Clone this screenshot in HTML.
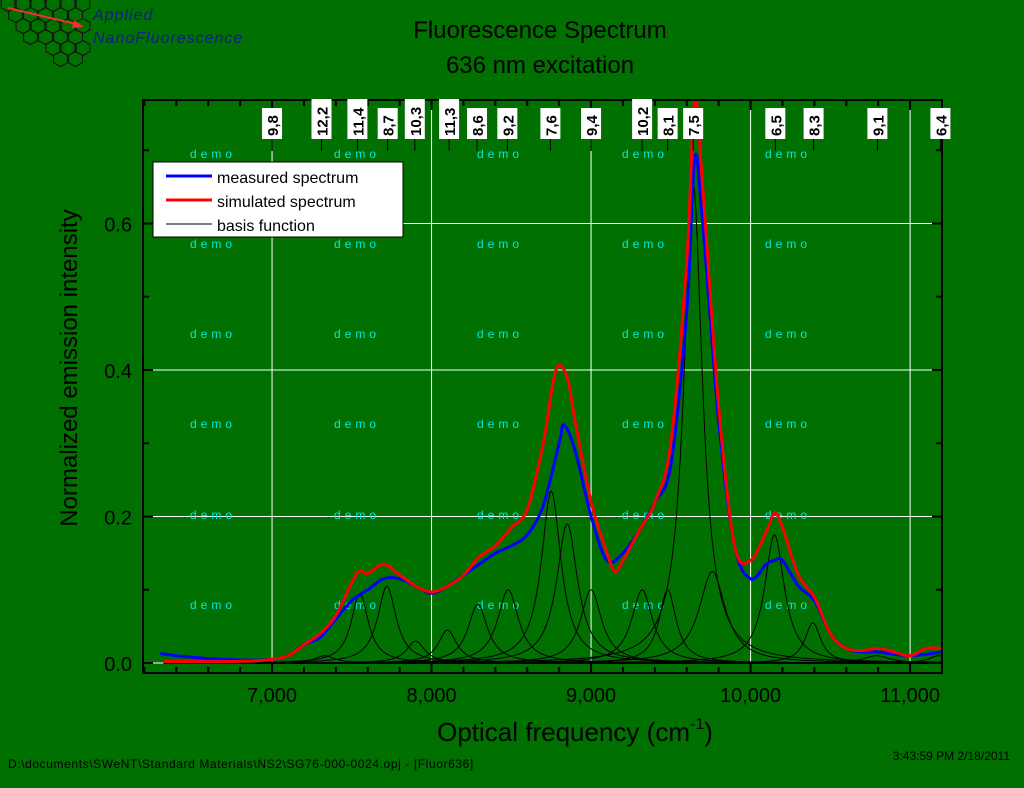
<!DOCTYPE html>
<html><head><meta charset="utf-8"><style>
html,body{margin:0;padding:0;background:#007000;}
body{width:1024px;height:783px;overflow:hidden;font-family:"Liberation Sans",sans-serif;}
</style></head><body>
<svg id="svg" width="1024" height="783" xmlns="http://www.w3.org/2000/svg" font-family="Liberation Sans, sans-serif">
<defs><clipPath id="plotclip"><rect x="143" y="100" width="799" height="573"/></clipPath></defs>
<rect width="1024" height="783" fill="#007000"/>
<g>
<g id="hex" stroke="#111" fill="none" stroke-width="1"></g>
<line x1="8" y1="8" x2="80" y2="25" stroke="#f03030" stroke-width="2"/>
<polygon points="84,27 74,20 72,28" fill="#f03030"/>
<text x="93" y="20" font-size="16" font-style="italic" fill="#102080" letter-spacing="1">Applied</text>
<text x="93" y="43" font-size="16" font-style="italic" fill="#102080" letter-spacing="1">NanoFluorescence</text>
</g>
<text x="540" y="38" font-size="24" text-anchor="middle" fill="#000">Fluorescence Spectrum</text>
<text x="540" y="73" font-size="24" text-anchor="middle" fill="#000">636 nm excitation</text>
<g id="grid"></g>
<g id="demo"></g>
<g id="basis" clip-path="url(#plotclip)"></g>
<g id="series" clip-path="url(#plotclip)"></g>
<g id="axes"></g>
<g id="labels"></g>
<g>
<rect x="153" y="162" width="250" height="75" fill="#fff" stroke="#000"/>
<line x1="166" y1="176" x2="212" y2="176" stroke="#0000ff" stroke-width="3"/>
<text x="217" y="183" font-size="16" fill="#000">measured spectrum</text>
<line x1="166" y1="200" x2="212" y2="200" stroke="#ff0000" stroke-width="3"/>
<text x="217" y="207" font-size="16" fill="#000">simulated spectrum</text>
<line x1="166" y1="224" x2="212" y2="224" stroke="#000" stroke-width="1"/>
<text x="217" y="231" font-size="16" fill="#000">basis function</text>
</g>
<text x="0" y="0" transform="translate(77,368) rotate(-90)" font-size="24" text-anchor="middle" fill="#000">Normalized emission intensity</text>
<text x="575" y="741" font-size="26" text-anchor="middle" fill="#000">Optical frequency (cm<tspan font-size="16" dy="-12">-1</tspan><tspan dy="12">)</tspan></text>
<text x="8" y="768" font-size="12" fill="#000" letter-spacing="0.6">D:\documents\SWeNT\Standard Materials\NS2\SG76-000-0024.opj - [Fluor636]</text>
<text x="1010" y="760" font-size="12" text-anchor="end" fill="#000">3:43:59 PM  2/18/2011</text>
</svg>
<script>
const xTicks=[7000,8000,9000,10000,11000];
const xTickLabels=["7,000","8,000","9,000","10,000","11,000"];
const yTicks=[0,0.2,0.4,0.6];
const yTickLabels=["0.0","0.2","0.4","0.6"];
const chiralLabels=["9,8","12,2","11,4","8,7","10,3","11,3","8,6","9,2","7,6","9,4","10,2","8,1","7,5","6,5","8,3","9,1","6,4"];
const chiralPos=[7000,7310,7535,7725,7895,8110,8285,8475,8745,9000,9320,9480,9640,10155,10395,10795,11190];
const basisCenters=[7330,7550,7720,7900,8100,8290,8480,8750,8850,9000,9320,9480,9640,9760,10150,10390,10790,11180];
const basisAmps=[0.01,0.095,0.105,0.03,0.045,0.08,0.10,0.235,0.19,0.10,0.10,0.10,0.655,0.125,0.175,0.055,0.01,0.01];
const basisWidths=[150,130,140,140,140,150,160,150,160,160,160,130,140,200,150,120,200,150];
const simX=[6320,6500,6700,6900,7000,7100,7200,7300,7400,7500,7550,7600,7700,7800,7900,8000,8100,8200,8300,8400,8500,8600,8700,8780,8850,8900,9000,9100,9150,9200,9300,9400,9500,9600,9650,9700,9800,9900,10000,10100,10150,10200,10300,10400,10500,10600,10700,10800,10900,11000,11100,11200];
const simY=[0.002,0.002,0.002,0.003,0.005,0.01,0.025,0.04,0.065,0.11,0.126,0.122,0.135,0.12,0.105,0.097,0.105,0.12,0.145,0.16,0.185,0.21,0.3,0.4,0.39,0.33,0.22,0.15,0.125,0.14,0.18,0.22,0.3,0.55,0.77,0.65,0.35,0.16,0.14,0.18,0.205,0.185,0.12,0.09,0.04,0.02,0.017,0.02,0.015,0.01,0.02,0.02];
const measX=[6300,6400,6500,6600,6700,6800,6900,7000,7100,7200,7300,7400,7500,7600,7700,7800,7900,8000,8100,8200,8300,8400,8500,8600,8700,8800,8830,8900,9000,9100,9200,9300,9400,9500,9600,9650,9700,9800,9900,10000,10100,10150,10200,10300,10400,10500,10600,10700,10800,10900,11000,11100,11200];
const measY=[0.013,0.01,0.008,0.006,0.005,0.004,0.004,0.005,0.01,0.025,0.035,0.06,0.085,0.1,0.115,0.115,0.105,0.095,0.105,0.12,0.135,0.15,0.16,0.175,0.215,0.3,0.325,0.29,0.2,0.14,0.15,0.18,0.22,0.27,0.48,0.69,0.6,0.33,0.16,0.115,0.135,0.14,0.14,0.105,0.085,0.04,0.02,0.015,0.015,0.012,0.01,0.012,0.015];

const NS="http://www.w3.org/2000/svg";
const L=143,R=942,T=100,B=673;
const X0=6191,X1=11200;
const xs=v=>L+(v-X0)/(X1-X0)*(R-L);
const ys=v=>663-v*732.5;
function mk(tag,attrs,parent){const e=document.createElementNS(NS,tag);for(const k in attrs)e.setAttribute(k,attrs[k]);document.getElementById(parent).appendChild(e);return e;}

// hex logo
for(let r=0;r<6;r++)for(let c=0;c<6;c++){
  const cx=8+c*15+(r%2)*7.5, cy=4+r*11;
  if(cx>90||cx<c*0+ (r*13) - 10) continue;
  let p=[];for(let i=0;i<6;i++){const a=Math.PI/3*i+Math.PI/6;p.push((cx+8*Math.cos(a)).toFixed(1)+","+(cy+7.5*Math.sin(a)).toFixed(1));}
  mk('polygon',{points:p.join(' ')},'hex');
}

// grid
xTicks.forEach(t=>{const g=mk('line',{x1:xs(t),x2:xs(t),y1:T,y2:B,stroke:'#fff','stroke-width':1},'grid');

});
yTicks.forEach(t=>{const g=mk('line',{x1:L,x2:R,y1:ys(t),y2:ys(t),stroke:'#fff','stroke-width':1},'grid');

});

// demo watermarks
[213,357,500,645,788].forEach(x=>[158,248,338,428,519,609].forEach(y=>{
  const t=mk('text',{x:x,y:y,'font-size':12,fill:'#00e8e8','text-anchor':'middle','letter-spacing':'4'},'demo');t.textContent='demo';
  
  
}));

// basis functions
basisCenters.forEach((c,i)=>{
  let d='';
  for(let v=6320;v<=11200;v+=8){const hw=basisWidths[i]/2;const y=basisAmps[i]*hw*hw/((v-c)*(v-c)+hw*hw);d+=(d?'L':'M')+xs(v).toFixed(1)+','+ys(y).toFixed(1);}
  const p=mk('path',{d:d,fill:'none',stroke:'#000','stroke-width':1},'basis');
  
  
});
const bl=mk('line',{x1:xs(6320),x2:R,y1:ys(0),y2:ys(0),stroke:'#000','stroke-width':2},'basis');



function curve(xa,ya,col,name){
  const P=xa.map((x,i)=>[xs(x),ys(ya[i])]);
  let d='M'+P[0][0].toFixed(1)+','+P[0][1].toFixed(1);
  for(let i=0;i<P.length-1;i++){
    const p0=P[Math.max(0,i-1)],p1=P[i],p2=P[i+1],p3=P[Math.min(P.length-1,i+2)];
    const c1=[p1[0]+(p2[0]-p0[0])/6,p1[1]+(p2[1]-p0[1])/6];
    const c2=[p2[0]-(p3[0]-p1[0])/6,p2[1]-(p3[1]-p1[1])/6];
    d+='C'+c1.map(v=>v.toFixed(1)).join(',')+' '+c2.map(v=>v.toFixed(1)).join(',')+' '+p2[0].toFixed(1)+','+p2[1].toFixed(1);
  }
  const p=mk('path',{d:d,fill:'none',stroke:col,'stroke-width':3,'stroke-linejoin':'round'},'series');
  
  
}
curve(measX,measY,'#0000ff','measured-spectrum-line');
curve(simX,simY,'#ff0000','simulated-spectrum-line');

// axes frame
const fr=mk('rect',{x:L,y:T,width:R-L,height:B-T,fill:'none',stroke:'#000','stroke-width':2},'axes');


for(let v=6200;v<=11200;v+=200){const major=v%1000===0;
  mk('line',{x1:xs(v),x2:xs(v),y1:B,y2:B-(major?10:6),stroke:'#000','stroke-width':2},'axes');
  mk('line',{x1:xs(v),x2:xs(v),y1:T,y2:T+(major?10:6),stroke:'#000','stroke-width':2},'axes');}
for(let v=0;v<=0.76;v+=0.1){const major=Math.round(v*10)%2===0;
  mk('line',{x1:L,x2:L+(major?10:6),y1:ys(v),y2:ys(v),stroke:'#000','stroke-width':2},'axes');
  mk('line',{x1:R,x2:R-(major?10:6),y1:ys(v),y2:ys(v),stroke:'#000','stroke-width':2},'axes');}
xTicks.forEach((t,i)=>{const e=mk('text',{x:xs(t),y:702,'font-size':20,'text-anchor':'middle',fill:'#000'},'axes');e.textContent=xTickLabels[i];

});
yTicks.forEach((t,i)=>{const e=mk('text',{x:132,y:ys(t)+8,'font-size':20,'text-anchor':'end',fill:'#000'},'axes');e.textContent=yTickLabels[i];

});

// chirality labels
chiralLabels.forEach((s,i)=>{
  const x=xs(chiralPos[i]);const h=s.length*9+4;const top=139-h;
  mk('line',{x1:x,x2:x,y1:139,y2:151,stroke:'#000','stroke-width':1},'labels');
  mk('rect',{x:x-10,y:top,width:20,height:h,fill:'#fff'},'labels');
  const t=mk('text',{x:0,y:0,transform:`translate(${x+6},${136}) rotate(-90)`,'font-size':15,'font-weight':'bold',fill:'#000'},'labels');
  t.textContent=s;
  
  
});
</script>
</body></html>
